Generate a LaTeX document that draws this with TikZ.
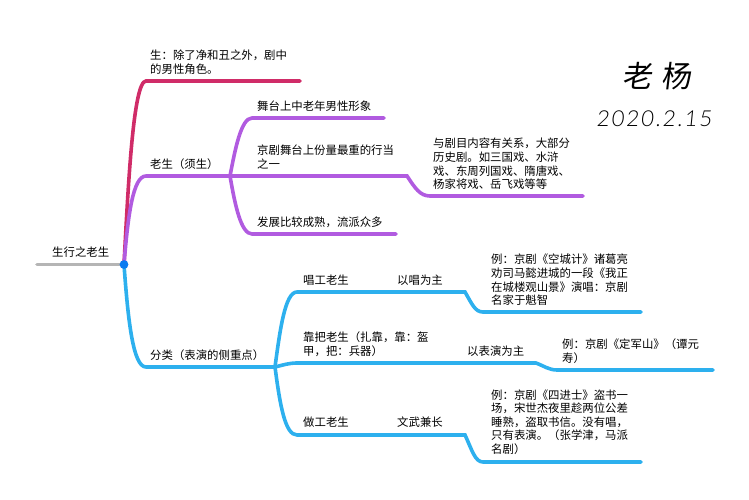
\documentclass[tikz,border=0pt]{standalone}
\usepackage{fontspec}
\setmainfont{Noto Sans CJK SC}
\newfontfamily\handfont[FakeSlant=0.12]{Noto Sans CJK SC}
\newfontfamily\datefont[FakeSlant=0.1,LetterSpace=9]{Lato Light}
\tikzset{
	label/.style={anchor=west,align=left,inner sep=0pt,font=\fontsize{11.4pt}{13.6pt}\selectfont,text=black},
	branch/.style={line width=3.6pt,line cap=round},
	redline/.style={branch,color={rgb,255:red,208;green,44;blue,104}},
	purpleline/.style={branch,color={rgb,255:red,177;green,91;blue,224}},
	blueline/.style={branch,color={rgb,255:red,45;green,176;blue,238}},
	greyline/.style={branch,color={rgb,255:red,181;green,181;blue,181}}
}
\begin{document}
\begin{tikzpicture}[x=1pt,y=-1pt]
	\useasboundingbox (0,0) rectangle (749,500);
	% junctions and line ends
	\coordinate (start) at (37,264.5);
	\coordinate (hub) at (124,264.5);
	\coordinate (sheng) at (146,81);
	\coordinate (shengend) at (300,81);
	\coordinate (lao) at (146,176);
	\coordinate (laofork) at (230,176);
	\coordinate (wutai) at (252,118);
	\coordinate (wutaiend) at (384,118);
	\coordinate (hangdang) at (407,176);
	\coordinate (jumu) at (430,196);
	\coordinate (jumuend) at (583,196);
	\coordinate (fazhan) at (252,234);
	\coordinate (fazhanend) at (396,234);
	\coordinate (fenlei) at (146,367);
	\coordinate (fenfork) at (275,367);
	\coordinate (chang) at (297,292);
	\coordinate (changbend) at (465,292);
	\coordinate (changex) at (483,312);
	\coordinate (changend) at (641,312);
	\coordinate (kao) at (297,363);
	\coordinate (kaobend) at (536,363);
	\coordinate (kaoex) at (557,370);
	\coordinate (kaoend) at (713,370);
	\coordinate (zuo) at (297,435);
	\coordinate (zuobend) at (465,435);
	\coordinate (zuoex) at (483,462);
	\coordinate (zuoend) at (641,462);
	% branches
	\draw[greyline] (start) -- (hub);
	\draw[blueline] (hub) .. controls (128,320) and (133,367) .. (fenlei) -- (fenfork);
	\draw[blueline] (fenfork) .. controls (280,330) and (285,292) .. (chang) -- (changbend) .. controls (472,304) and (475,312) .. (changex) -- (changend);
	\draw[blueline] (fenfork) .. controls (283,365) and (289,363) .. (kao) -- (kaobend) .. controls (544,366) and (549,370) .. (kaoex) -- (kaoend);
	\draw[blueline] (fenfork) .. controls (280,405) and (285,435) .. (zuo) -- (zuobend) .. controls (472,450) and (475,462) .. (zuoex) -- (zuoend);
	\draw[redline] (hub) .. controls (128,190) and (133,81) .. (sheng) -- (shengend);
	\draw[purpleline] (hub) .. controls (128,215) and (133,176) .. (lao) -- (hangdang) .. controls (415,188) and (420,196) .. (jumu) -- (jumuend);
	\draw[purpleline] (laofork) .. controls (235,150) and (241,118) .. (wutai) -- (wutaiend);
	\draw[purpleline] (laofork) .. controls (235,205) and (241,234) .. (fazhan) -- (fazhanend);
	\fill[color={rgb,255:red,10;green,124;blue,240}] (hub) circle (4.4);
	% labels
	\node[label] (root) at (52,252) {生行之老生};
	\node[label] (shengtxt) at (150,62) {生：除了净和丑之外，剧中\\的男性角色。};
	\node[label] (laotxt) at (150,164) {老生（须生）};
	\node[label] (wutaitxt) at (257,106) {舞台上中老年男性形象};
	\node[label] (hangtxt) at (257,157) {京剧舞台上份量最重的行当\\之一};
	\node[label] (fazhantxt) at (257,222) {发展比较成熟，流派众多};
	\node[label] (jumutxt) at (433,164) {与剧目内容有关系，大部分\\历史剧。如三国戏、水浒\\戏、东周列国戏、隋唐戏、\\杨家将戏、岳飞戏等等};
	\node[label] (fenleitxt) at (150,355) {分类（表演的侧重点）};
	\node[label] (changtxt) at (303,280) {唱工老生};
	\node[label] (changzhu) at (397,280) {以唱为主};
	\node[label] (changli) at (491,280) {例：京剧《空城计》诸葛亮\\劝司马懿进城的一段《我正\\在城楼观山景》演唱：京剧\\名家于魁智};
	\node[label] (kaotxt) at (303,344) {靠把老生（扎靠，靠：盔\\甲，把：兵器）};
	\node[label] (kaozhu) at (467,351) {以表演为主};
	\node[label] (kaoli) at (562,351) {例：京剧《定军山》（谭元\\寿）};
	\node[label] (zuotxt) at (303,422) {做工老生};
	\node[label] (zuozhu) at (397,422) {文武兼长};
	\node[label] (zuoli) at (491,422) {例：京剧《四进士》盗书一\\场，宋世杰夜里趁两位公差\\睡熟，盗取书信。没有唱，\\只有表演。（张学津，马派\\名剧）};
	% signature
	\node[inner sep=0pt,font=\handfont\fontsize{30pt}{30pt}\selectfont] (author) at (657,76) {老\,\,杨};
	\node[inner sep=0pt,font=\datefont\fontsize{22pt}{22pt}\selectfont] (date) at (654,119) {2020.2.15};
\end{tikzpicture}
\end{document}
